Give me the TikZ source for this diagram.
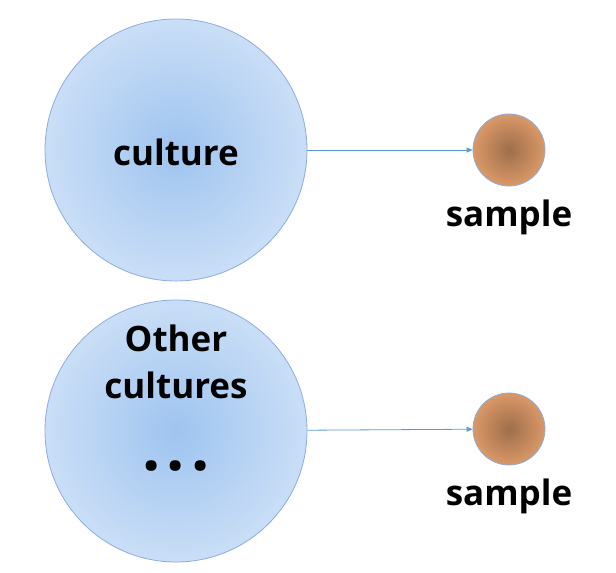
\documentclass[tikz,border=0pt]{standalone}
\usepackage{fontspec}
\setmainfont{Open Sans}
\usetikzlibrary{positioning,arrows.meta}
\definecolor{rimblue}{RGB}{140,172,222}
\definecolor{midblue}{RGB}{158,196,240}
\definecolor{outblue}{RGB}{202,222,246}
\definecolor{coreb}{RGB}{158,110,74}
\definecolor{outb}{RGB}{218,152,104}
\definecolor{linkblue}{RGB}{91,155,213}
\begin{document}
\begin{tikzpicture}[x=1pt, y=-1pt,
    big/.style={circle, draw=rimblue, line width=0.8pt, inner sep=0pt,
        minimum size=262pt, inner color=midblue, outer color=outblue},
    pellet/.style={circle, draw=rimblue, line width=0.8pt, inner sep=0pt,
        minimum size=72pt, inner color=coreb, outer color=outb},
    word/.style={font=\fontsize{35}{35}\selectfont\bfseries, text=black},
    link/.style={-{Triangle[length=6pt, width=5pt]}, draw=linkblue, line width=0.8pt}]

    \useasboundingbox (0,0) rectangle (616,573);

    % 1. 上方: culture -> sample
    \node[big] (cult) at (176,150) {};
    \node[word] (cultlab) at (176,152) {culture};
    \node[pellet] (samp1) at (509,150) {};
    \node[word, below=10pt of samp1] (lab1) {sample};
    \draw[link] (cult) -- (samp1);

    % 2. 下方: Other cultures -> sample
    \node[big] (other) at (176,431) {};
    \node[word] (otherlab) at (176,338) {Other};
    \node[word] (otherlab2) at (176,385) {cultures};
    \node[word, font=\fontsize{64}{64}\selectfont\bfseries] (dots) at (176,466) {.\kern6pt.\kern6pt.};
    \node[pellet] (samp2) at (509,429) {};
    \node[word, below=10pt of samp2] (lab2) {sample};
    \draw[link] (other) -- (samp2);
\end{tikzpicture}
\end{document}
